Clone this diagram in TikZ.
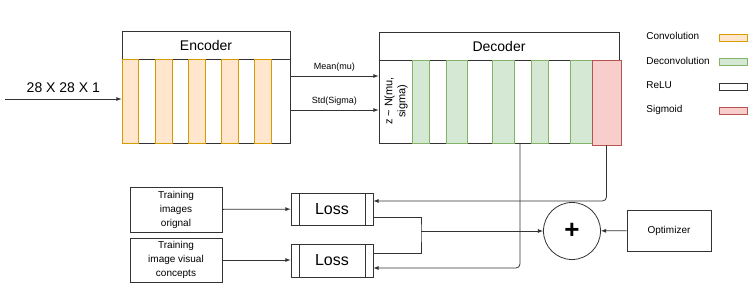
\documentclass[tikz,border=0pt]{standalone}
\usepackage{fontspec}
\setmainfont{Liberation Sans}
\usetikzlibrary{positioning}

\definecolor{convfill}{HTML}{FFE6CC}
\definecolor{convline}{HTML}{D79B00}
\definecolor{deconvfill}{HTML}{D5E8D4}
\definecolor{deconvline}{HTML}{82B366}
\definecolor{sigfill}{HTML}{F8CECC}
\definecolor{sigline}{HTML}{B85450}
\definecolor{wire}{HTML}{333333}

\newcommand{\fsz}[1]{\fontsize{#1}{#1}\selectfont}

\begin{document}
\begin{tikzpicture}[x=1pt,y=-1pt,>=latex,line width=0.8pt,
  box/.style={draw=wire,rectangle,inner sep=0pt},
  conv/.style={box,draw=convline,fill=convfill,minimum height=84},
  deconv/.style={box,draw=deconvline,fill=deconvfill,minimum height=83},
  lossbox/.style={box,minimum width=82,path picture={
    \draw[wire] ([xshift=8pt]path picture bounding box.north west) -- ([xshift=8pt]path picture bounding box.south west);
    \draw[wire] ([xshift=-8pt]path picture bounding box.north east) -- ([xshift=-8pt]path picture bounding box.south east);}},
  leg/.style={box,minimum width=28,minimum height=7},
  wirearrow/.style={->,draw=wire}]
\useasboundingbox (0,0) rectangle (748,284);

% encoder
\node[box,minimum width=168,minimum height=28] (enctitle) at (206,45) {\fsz{14}Encoder};
\node[box,minimum width=168,minimum height=84] (encbody) at (206,101) {};
\node[conv,minimum width=16] (conv1) at (130,101) {};
\node[conv,minimum width=17] (conv2) at (163.5,101) {};
\node[conv,minimum width=17] (conv3) at (196.5,101) {};
\node[conv,minimum width=17] (conv4) at (229.5,101) {};
\node[conv,minimum width=17] (conv5) at (262.5,101) {};

% decoder
\node[box,minimum width=240,minimum height=28] (dectitle) at (499,46) {\fsz{14}Decoder};
\node[box,minimum width=240,minimum height=83] (decbody) at (499,101.5) {};
\node[rotate=90,align=center,inner sep=0pt] (zlabel) at (396,101) {\fsz{11}z \textasciitilde\ N(mu,\\[1pt]\fsz{11}sigma)};
\node[deconv,minimum width=17] (deconv1) at (420.5,101.5) {};
\node[deconv,minimum width=21] (deconv2) at (456.5,101.5) {};
\node[deconv,minimum width=22] (deconv3) at (503,101.5) {};
\node[deconv,minimum width=17] (deconv4) at (539.5,101.5) {};
\node[deconv,minimum width=22] (deconv5) at (581,101.5) {};
\node[box,draw=sigline,fill=sigfill,minimum width=29,minimum height=85] (sig) at (606.5,102.5) {};

% legend
\node[anchor=west,inner sep=0pt] (legconv) at (646,36) {\fsz{10}Convolution};
\node[anchor=west,inner sep=0pt] (legdeconv) at (646,61) {\fsz{10}Deconvolution};
\node[anchor=west,inner sep=0pt] (legrelu) at (646,85) {\fsz{10}ReLU};
\node[anchor=west,inner sep=0pt] (legsig) at (646,110) {\fsz{10}Sigmoid};
\node[leg,draw=convline,fill=convfill] at (733,37.5) {};
\node[leg,draw=deconvline,fill=deconvfill] at (733,62) {};
\node[leg] at (733,86.5) {};
\node[leg,draw=sigline,fill=sigfill] at (733,111) {};

% loss part
\node[box,minimum width=92,minimum height=45,align=center] (trainimg) at (176,209.5) {\fsz{10}Training\\[2pt]\fsz{10}images\\[2pt]\fsz{10}orignal};
\node[box,minimum width=92,minimum height=44,align=center] (trainvis) at (176,260) {\fsz{10}Training\\[2pt]\fsz{10}image visual\\[2pt]\fsz{10}concepts};
\node[lossbox,minimum height=32] (loss1) at (332,209) {\fsz{16}Loss};
\node[lossbox,minimum height=33] (loss2) at (332,260.5) {\fsz{16}Loss};
\node[draw=wire,circle,minimum size=57,inner sep=0pt] (plus) at (572,231) {\fsz{26}\textbf{+}};
\node[box,minimum width=84,minimum height=41] (opt) at (669,230.5) {\fsz{10}Optimizer};

\coordinate (input) at (5,99);
\coordinate (mean) at (290,76);
\coordinate (std) at (290,110);
\coordinate (tap) at (520,143);
\coordinate (join) at (421,231);

\draw[wirearrow] (input) -- (input -| encbody.west) node[midway,above=3pt] {\fsz{14}28 X 28 X 1};
\draw[wirearrow] (mean) -- (mean -| decbody.west) node[midway,above=1pt] {\fsz{9}Mean(mu)};
\draw[wirearrow] (std) -- (std -| decbody.west) node[midway,above=1pt] {\fsz{9}Std(Sigma)};
\draw[wirearrow] (trainimg) -- (loss1);
\draw[wirearrow] (trainvis.east) -- (trainvis.east -| loss2.west);
\draw[wirearrow,rounded corners=4] (sig.south) |- ([yshift=8pt]loss1.east);
\draw[wirearrow,rounded corners=4] (tap) |- ([yshift=-7.5pt]loss2.east);
\draw[draw=wire] ([yshift=-8pt]loss1.east) -| (join) |- ([yshift=7.5pt]loss2.east);
\draw[wirearrow] (join) -- (plus);
\draw[wirearrow] (opt) -- (plus);
\end{tikzpicture}
\end{document}
